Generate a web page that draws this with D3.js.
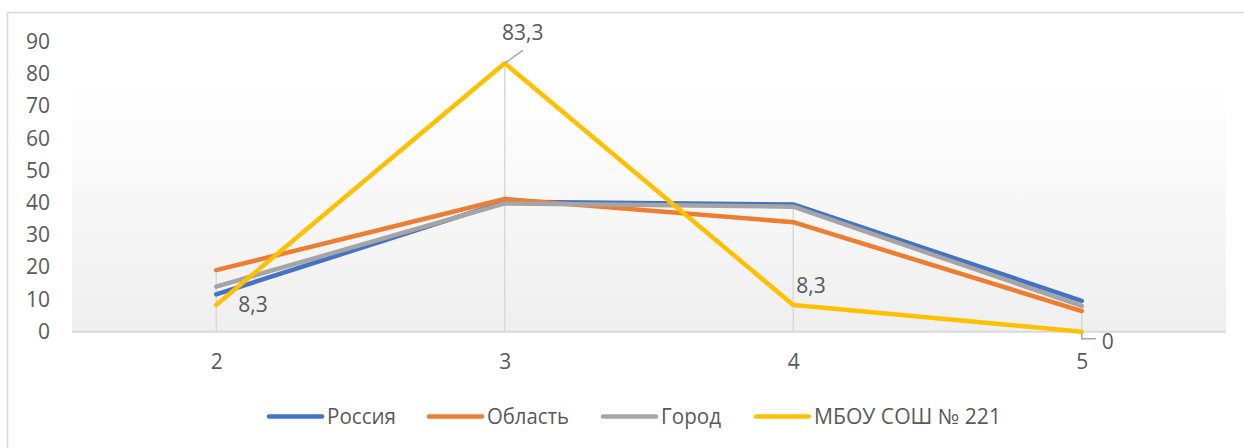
<!DOCTYPE html>
<html><head><meta charset="utf-8">
<script src="https://cdn.jsdelivr.net/npm/d3@7"></script>
<style>body{margin:0;background:#fff}svg{display:block}text{font-family:"Open Sans",sans-serif;fill:#595959}</style>
</head><body>
<script>
const categories = ["2","3","4","5"];
const seriesNames = ["Россия","Область","Город","МБОУ СОШ № 221"];
const russia = [11.6, 40.3, 39.5, 9.6];
const oblast = [19.1, 41.2, 34.0, 6.4];
const gorod = [14.0, 39.8, 38.8, 8.0];
const school = [8.3, 83.3, 8.3, 0];
const yTicks = [0,10,20,30,40,50,60,70,80,90];
const colors = ["#4472C4","#ED7D31","#A5A5A5","#FFC000"];
const allSeries = [russia, oblast, gorod, school];
const schoolLabels = ["8,3","83,3","8,3","0"];

const W=1244,H=448;
const svg=d3.select("body").append("svg").attr("width",W).attr("height",H);
svg.append("rect").attr("x",7.5).attr("y",12.5).attr("width",1245).attr("height",445)
  .attr("fill","#fff").attr("stroke","#d9d9d9").attr("stroke-width",1.5);

const pL=72,pR=1226,pT=41.7,pB=331.7;
const x=d3.scalePoint().domain(categories).range([pL,pR]).padding(0.5);
const y=d3.scaleLinear().domain([0,90]).range([pB,pT]);

const defs=svg.append("defs");
const g=defs.append("linearGradient").attr("id","bg").attr("x1",0).attr("y1",0).attr("x2",0).attr("y2",1);
g.append("stop").attr("offset","0%").attr("stop-color","#ffffff");
g.append("stop").attr("offset","14%").attr("stop-color","#ffffff");
g.append("stop").attr("offset","100%").attr("stop-color","#efefef");
svg.append("rect").attr("x",pL).attr("y",pT).attr("width",pR-pL).attr("height",pB-pT).attr("fill","url(#bg)");

// drop lines
categories.forEach((c,i)=>{
  const mx=d3.max(allSeries,s=>s[i]);
  svg.append("line").attr("x1",x(c)).attr("x2",x(c)).attr("y1",y(mx)).attr("y2",y(0))
    .attr("stroke","#d9d9d9").attr("stroke-width",1.5);
});
// baseline
svg.append("line").attr("x1",pL).attr("x2",pR).attr("y1",pB).attr("y2",pB)
  .attr("stroke","#d9d9d9").attr("stroke-width",2);

// y axis
const ya=svg.append("g").attr("transform",`translate(${pL},0)`)
  .call(d3.axisLeft(y).tickValues(yTicks).tickSize(0).tickPadding(22));
ya.select(".domain").remove();
ya.selectAll("text").attr("font-size",21).attr("fill","#595959").style("font-family","Open Sans");
// x axis
const xa=svg.append("g").attr("transform",`translate(0,${pB})`)
  .call(d3.axisBottom(x).tickSize(0).tickPadding(22));
xa.select(".domain").remove();
xa.selectAll("text").attr("font-size",21).attr("fill","#595959").style("font-family","Open Sans");

// lines
const line=d3.line().x((d,i)=>x(categories[i])).y(d=>y(d));
allSeries.forEach((s,k)=>{
  svg.append("path").datum(s).attr("d",line).attr("fill","none")
    .attr("stroke",colors[k]).attr("stroke-width",4.5).attr("stroke-linejoin","round").attr("stroke-linecap","round");
});

// data labels for school
const lbl=[
  {dx:22,dy:0,anchor:"start"},
  {dx:18,dy:-31,anchor:"middle"},
  {dx:3,dy:-19,anchor:"start"},
  {dx:20,dy:10,anchor:"start"}
];
// leader lines
svg.append("line").attr("x1",x("3")).attr("y1",y(school[1])).attr("x2",x("3")+18).attr("y2",y(school[1])-13)
  .attr("stroke","#a6a6a6").attr("stroke-width",1.5);
svg.append("path").attr("d",`M${x("5")},${y(0)+1}V${y(0)+7}H${x("5")+14}`)
  .attr("fill","none").attr("stroke","#a6a6a6").attr("stroke-width",1.5);
school.forEach((v,i)=>{
  svg.append("text").attr("x",x(categories[i])+lbl[i].dx).attr("y",y(v)+lbl[i].dy)
    .attr("dy","0.35em").attr("text-anchor",lbl[i].anchor).attr("font-size",21).text(schoolLabels[i]);
});

// legend
const legX=[269,429,603,756];
const legW=[69,82,60,187];
seriesNames.forEach((n,k)=>{
  svg.append("line").attr("x1",legX[k]).attr("x2",legX[k]+53).attr("y1",416.5).attr("y2",416.5)
    .attr("stroke",colors[k]).attr("stroke-width",4.5).attr("stroke-linecap","round");
  svg.append("text").attr("x",legX[k]+58).attr("y",416.5).attr("dy","0.35em").attr("font-size",21)
    .attr("textLength",legW[k]).attr("lengthAdjust","spacingAndGlyphs").text(n);
});
</script>
</body></html>
